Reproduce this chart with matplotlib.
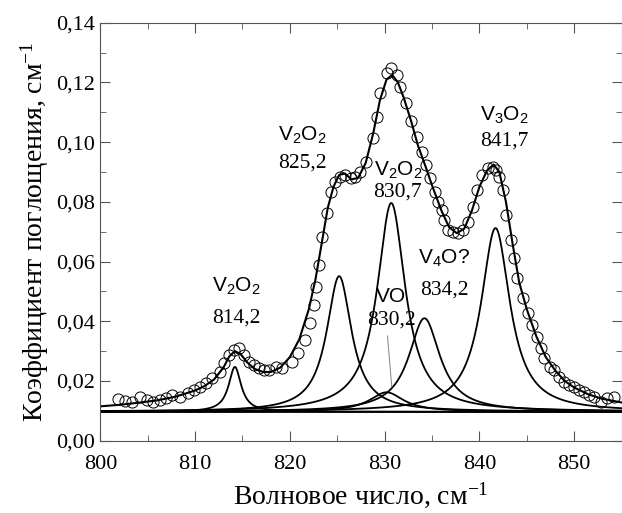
import numpy as np
import matplotlib
matplotlib.use("Agg")
import matplotlib.pyplot as plt
from matplotlib.ticker import MultipleLocator, FuncFormatter

plt.rcParams["font.family"] = "Liberation Serif"
plt.rcParams["mathtext.default"] = "regular"

# experimental points (circles)
exp_x = [801.9, 802.6, 803.3, 804.2, 804.9, 805.6, 806.3, 806.9, 807.6, 808.4,
         809.2, 809.9, 810.5, 811.2, 811.8, 812.6, 813.1, 813.6, 814.1, 814.6,
         815.2, 815.7, 816.2, 816.7, 817.3, 817.8, 818.5, 819.2, 820.2, 820.9,
         821.6, 822.1, 822.5, 822.8, 823.1, 823.4, 823.9, 824.3, 824.8, 825.3,
         825.8, 826.4, 826.9, 827.4, 828.0, 828.8, 829.2, 829.5, 830.2, 830.7,
         831.3, 831.6, 832.3, 832.8, 833.4, 833.9, 834.4, 834.8, 835.3, 835.6,
         836.0, 836.3, 836.7, 837.2, 837.7, 838.3, 838.8, 839.3, 839.7, 840.3,
         840.9, 841.4, 841.8, 842.1, 842.5, 842.8, 843.3, 843.7, 844.0, 844.6,
         845.1, 845.6, 846.1, 846.5, 846.8, 847.4, 847.9, 848.4, 848.9, 849.5,
         850.0, 850.5, 851.0, 851.6, 852.1, 852.8, 853.5, 854.2]
exp_y = [0.0140, 0.0134, 0.0131, 0.0147, 0.0136, 0.0131, 0.0136, 0.0142, 0.0153, 0.0147,
         0.0160, 0.0170, 0.0181, 0.0193, 0.0210, 0.0231, 0.0260, 0.0287, 0.0304, 0.0311,
         0.0287, 0.0265, 0.0254, 0.0244, 0.0237, 0.0238, 0.0248, 0.0244, 0.0265, 0.0293,
         0.0337, 0.0394, 0.0455, 0.0516, 0.0589, 0.0683, 0.0762, 0.0834, 0.0868, 0.0884,
         0.0890, 0.0879, 0.0884, 0.0901, 0.0932, 0.1013, 0.1085, 0.1164, 0.1231, 0.1248,
         0.1225, 0.1186, 0.1130, 0.1069, 0.1018, 0.0968, 0.0924, 0.0879, 0.0834, 0.0801,
         0.0773, 0.0739, 0.0706, 0.0700, 0.0696, 0.0706, 0.0734, 0.0784, 0.0840, 0.0890,
         0.0912, 0.0918, 0.0907, 0.0884, 0.0840, 0.0756, 0.0672, 0.0611, 0.0544, 0.0477,
         0.0427, 0.0388, 0.0348, 0.0310, 0.0276, 0.0248, 0.0237, 0.0214, 0.0198, 0.0187,
         0.0181, 0.0170, 0.0164, 0.0153, 0.0147, 0.0131, 0.0142, 0.0147]

# total fit envelope
fit_x = [800, 802, 804, 806, 808, 810, 811, 812, 813, 813.6, 814.2, 814.8, 815.5,
         816.3, 817.2, 818, 819, 820, 821, 822, 822.7, 823.3, 824, 824.6, 825.2,
         825.8, 826.5, 827.2, 828, 828.8, 829.5, 830.2, 830.8, 831.4, 832, 832.8,
         833.5, 834.3, 835, 836, 836.8, 837.6, 838.4, 839.2, 840, 840.8, 841.5,
         842.1, 842.8, 843.5, 844.2, 845, 846, 847, 848, 849, 850, 851.5, 853, 855]
fit_y = [0.0115, 0.0120, 0.0127, 0.0135, 0.0148, 0.0168, 0.0183, 0.0205, 0.0245, 0.0282,
         0.0300, 0.0290, 0.0262, 0.0240, 0.0230, 0.0230, 0.0245, 0.0280, 0.0340, 0.0440,
         0.0540, 0.0650, 0.0780, 0.0850, 0.0890, 0.0895, 0.0875, 0.0880, 0.0930, 0.1030,
         0.1140, 0.1210, 0.1225, 0.1200, 0.1150, 0.1070, 0.0990, 0.0920, 0.0855, 0.0770,
         0.0715, 0.0695, 0.0710, 0.0770, 0.0850, 0.0905, 0.0925, 0.0900, 0.0800, 0.0660,
         0.0530, 0.0440, 0.0350, 0.0280, 0.0235, 0.0200, 0.0178, 0.0155, 0.0140, 0.0128]

# fitted components: centre, height above baseline, half width
baseline = 0.0097
peak_pos = [814.2, 825.2, 830.7, 830.2, 834.2, 841.7]
peak_amp = [0.0150, 0.0454, 0.0699, 0.0065, 0.0313, 0.0615]
peak_hw = [0.8, 1.6, 1.8, 2.2, 2.0, 1.85]

labels = [("V$_2$O$_2$", "814,2", 814.3, 0.0516, 0.0411),
          ("V$_2$O$_2$", "825,2", 821.3, 0.1024, 0.0930),
          ("V$_2$O$_2$", "830,7", 831.4, 0.0906, 0.0833),
          ("VO", "830,2", 830.7, 0.0482, 0.0404),
          ("V$_4$O?", "834,2", 836.3, 0.0612, 0.0505),
          ("V$_3$O$_2$", "841,7", 842.6, 0.1090, 0.1002)]

fig = plt.figure(figsize=(6.22, 5.13), dpi=100)
ax = fig.add_axes([0.1613, 0.141, 0.838, 0.8148])

xs = np.linspace(800, 855, 1101)
ax.axhline(baseline, color="black", lw=1.3)
for c, a, w in zip(peak_pos, peak_amp, peak_hw):
    ax.plot(xs, baseline + a / (1 + ((xs - c) / w) ** 2), color="black", lw=1.3)

ax.plot(fit_x, fit_y, color="black", lw=1.5)
ax.plot(exp_x, exp_y, "o", ms=8, mfc="none", mec="black", mew=0.7)

for sp, num, lx, y1, y2 in labels:
    ax.text(lx, y1, sp, family="Liberation Sans", fontsize=15, ha="center", va="center")
    ax.text(lx, y2, num, fontsize=15.5, ha="center", va="center")
ax.plot([830.3, 830.75], [0.0351, 0.0181], color="gray", lw=0.7)

ax.set_xlim(800, 855)
ax.set_ylim(0, 0.14)
ax.xaxis.set_major_locator(MultipleLocator(10))
ax.xaxis.set_minor_locator(MultipleLocator(5))
ax.yaxis.set_major_locator(MultipleLocator(0.02))
ax.yaxis.set_minor_locator(MultipleLocator(0.01))
ax.yaxis.set_major_formatter(FuncFormatter(lambda v, p: f"{v:.2f}".replace(".", ",")))
ax.tick_params(which="both", direction="in", top=True, right=True, color="#555555",
               labelsize=16)
ax.tick_params(which="major", length=7)
ax.tick_params(which="minor", length=4)
ax.tick_params(axis="x", pad=10)
for sp in ax.spines.values():
    sp.set_color("#555555")

ax.set_xlabel("Волновое число, см$^{-1}$", fontsize=20, labelpad=5)
ax.set_ylabel("Коэффициент поглощения, см$^{-1}$", fontsize=20)

fig.savefig("out.png", dpi=100)
